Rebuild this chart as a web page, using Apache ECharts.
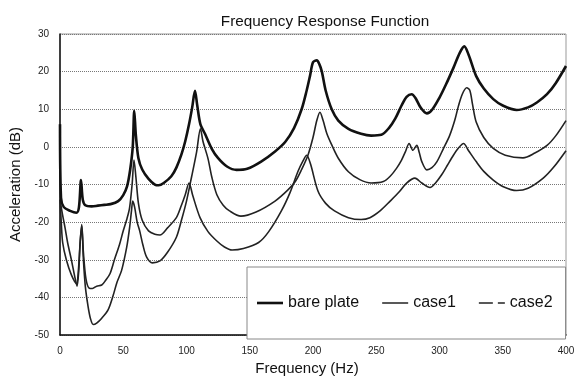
<!DOCTYPE html>
<html>
<head>
<meta charset="utf-8">
<script src="https://cdn.jsdelivr.net/npm/echarts@6/dist/echarts.min.js"></script>
<style>
  html, body { margin: 0; padding: 0; background: #fff; }
  #chart { width: 578px; height: 381px; }
</style>
</head>
<body>
<div id="chart"></div>
<script>
// values (Hz, dB)
const bareFreq = [0, 0.8, 3, 8, 13, 15, 16.6, 18, 20, 25, 30, 35, 40, 46, 50, 53, 55.5, 57.5, 58.7, 60, 62, 65, 70, 75, 78, 82, 88, 92, 96, 99, 102, 104.5, 106.7, 108.5, 111, 114.6, 120, 125, 132, 139.5, 148, 159, 170, 178, 185, 191, 195, 197.6, 200, 203, 205, 207, 210, 214.8, 220, 228, 238, 246, 254, 260, 265, 270, 274, 278, 281, 285, 290, 294, 300, 305, 311, 316, 319.6, 323, 329, 335, 342.5, 350, 361, 370, 377, 385, 392, 400];
const bareDb = [6, -13.5, -16, -17, -17.5, -16, -8.8, -14, -15.5, -15.8, -15.6, -15.4, -15.2, -14.4, -12.8, -10.5, -6, 0, 9.6, 3, -3, -6, -8.5, -10, -10.2, -9.6, -7.8, -5.5, -2, 1.5, 6, 10.5, 14.9, 11, 6, 3.5, -0.5, -3, -5.2, -6.1, -5.8, -3.9, -1.2, 1.3, 5, 10, 15, 18.8, 22.5, 23, 22, 20, 15, 10, 7, 4.8, 3.5, 3, 3.2, 5, 7.5, 11, 13.3, 14, 13, 10.5, 8.9, 9.8, 13.1, 16.5, 21, 25, 26.7, 24.5, 18.8, 15.5, 12.7, 11, 9.8, 10.5, 11.8, 14, 17, 21.5];

const case1Freq = [0, 1, 2.1, 5, 9, 13, 14.5, 16, 17.2, 18.5, 20, 22, 24, 26.3, 29, 33, 38, 42, 45, 48.7, 52.7, 55, 56.5, 57.5, 59, 61, 63, 65.5, 68.5, 73, 79, 85, 92, 96, 100, 104, 108, 111, 113, 117, 120, 124, 129, 134, 143, 155, 170, 180, 186, 191, 196, 200, 203, 205.5, 208, 211, 215, 220, 228, 237, 246, 255.6, 261, 266, 270, 273, 276, 279, 282, 284, 286, 290, 294, 298, 303, 308, 312, 315, 318, 321.5, 324, 326, 329, 335, 342.5, 352, 366, 375, 385, 392, 400];
const case1Db = [-14, -20, -25.4, -30, -34, -36.3, -33, -25, -21, -30, -37, -42, -45.5, -47.2, -46.8, -45.5, -43.3, -39.5, -36, -32.8, -26.7, -21.5, -17, -14.4, -16, -20, -22.3, -26, -29.3, -30.8, -30.3, -28, -24, -19.5, -14.4, -8, -1.3, 4.8, 1.5, -3.1, -8, -12.7, -15.5, -17, -18.4, -17.3, -14.4, -11.5, -9.2, -6, -2.2, 2.5, 7, 9.2, 7, 3.5, 0.4, -3, -6.6, -8.7, -9.6, -9.2, -7.8, -5.7, -3.5, -1.3, 0.9, -0.9, 0.4, -1.5, -3.9, -6.1, -5.5, -3.9, -0.5, 3, 7, 10.9, 14, 15.7, 15, 11.5, 6.6, 2.5, -0.4, -2.2, -2.9, -1.7, 0.4, 3, 7];

const case2Freq = [0, 2, 4, 6, 9, 12, 13.5, 14.8, 16, 17.2, 18.5, 20.5, 23, 25.7, 29, 33, 36, 39.5, 43, 47, 50, 53, 55, 57, 58.5, 60, 62, 65, 70, 75, 79, 85, 92, 96, 99, 102, 105, 110.7, 117, 124, 130, 136, 145, 157, 165, 175, 182, 188, 192, 195, 198, 204, 210, 217, 228, 238, 245, 253, 261, 268, 274, 280.6, 286, 292.5, 297, 301.7, 306, 311, 315, 319, 323, 329, 335, 342.5, 350, 361, 370, 382, 390, 400];
const case2Db = [-14, -18, -21.5, -25.4, -30, -35, -37, -33, -25, -20.6, -28, -35, -37.5, -37.6, -37, -36.7, -35.5, -33.7, -30, -26, -22.3, -19, -16.2, -10, -3.5, -8, -15, -19.5, -22.3, -23.2, -23.4, -21.5, -18.8, -15.5, -12.7, -9.6, -13, -18.8, -22.5, -25, -26.6, -27.4, -27, -25.4, -22.5, -17, -12, -6.6, -3.8, -2.2, -4.5, -11.8, -15, -17, -18.8, -19.3, -18.8, -17, -14.4, -12, -9.6, -8.3, -9.6, -10.8, -9.5, -7.4, -5, -2.2, -0.3, 0.9, -1, -3.9, -6.5, -8.8, -10.5, -11.6, -11, -8.3, -5.5, -1];

const seriesNames = ['bare plate', 'case1', 'case2'];

function pairs(xs, ys) {
  return xs.map((x, i) => [x, ys[i]]);
}

const font = 'Liberation Sans, Arial, sans-serif';
const chart = echarts.init(document.getElementById('chart'));

chart.setOption({
  animation: false,
  backgroundColor: '#fff',
  title: {
    text: 'Frequency Response Function',
    left: 320, top: 9, textAlign: 'center',
    textStyle: { fontFamily: font, fontSize: 15.3, fontWeight: 'normal', color: '#111' },
  },
  grid: { left: 60, right: 12, top: 34, bottom: 43, show: true, borderColor: '#999', borderWidth: 1 },
  legend: {
    left: 247, top: 267,
    padding: [28, 13, 28, 10],
    backgroundColor: '#fff',
    borderColor: '#888', borderWidth: 1,
    itemWidth: 26, itemHeight: 3, itemGap: 23,
    textStyle: { fontFamily: font, fontSize: 16, color: '#111' },
    data: [
      { name: seriesNames[0], icon: 'path://M0,0h26v2.6h-26z', itemStyle: { color: '#111' } },
      { name: seriesNames[1], icon: 'path://M0,0h26v1.5h-26z', itemStyle: { color: '#222' } },
      { name: seriesNames[2], icon: 'path://M0,0h14v1.5h-14zM19,0h7v1.5h-7z', itemStyle: { color: '#222' } },
    ],
  },
  xAxis: {
    type: 'value', min: 0, max: 400, interval: 50,
    name: 'Frequency (Hz)', nameLocation: 'middle', nameGap: 22,
    nameTextStyle: { fontFamily: font, fontSize: 15, color: '#111', padding: [0, 12, 0, 0] },
    axisLine: { onZero: false, lineStyle: { color: '#111', width: 1.5 } },
    axisTick: { show: false },
    axisLabel: { fontFamily: font, fontSize: 10, color: '#222', margin: 11 },
    splitLine: { show: false },
  },
  yAxis: {
    type: 'value', min: -50, max: 30, interval: 10,
    name: 'Acceleration (dB)', nameLocation: 'middle', nameGap: 34,
    nameTextStyle: { fontFamily: font, fontSize: 15, color: '#111' },
    axisLine: { show: true, onZero: false, lineStyle: { color: '#111', width: 1.5 } },
    axisTick: { show: false },
    axisLabel: { fontFamily: font, fontSize: 10, color: '#222', margin: 11 },
    splitLine: { lineStyle: { color: '#777', type: 'dotted', width: 1 } },
  },
  series: [
    {
      name: seriesNames[0], type: 'line', data: pairs(bareFreq, bareDb),
      symbol: 'none', smooth: 0.3, z: 4,
      lineStyle: { color: '#111', width: 2.6 }, itemStyle: { color: '#111' },
    },
    {
      name: seriesNames[1], type: 'line', data: pairs(case1Freq, case1Db),
      symbol: 'none', smooth: 0.3, z: 3,
      lineStyle: { color: '#222', width: 1.6 }, itemStyle: { color: '#222' },
    },
    {
      name: seriesNames[2], type: 'line', data: pairs(case2Freq, case2Db),
      symbol: 'none', smooth: 0.3, z: 3,
      lineStyle: { color: '#222', width: 1.6 }, itemStyle: { color: '#222' },
    },
  ],
});
</script>
</body>
</html>
